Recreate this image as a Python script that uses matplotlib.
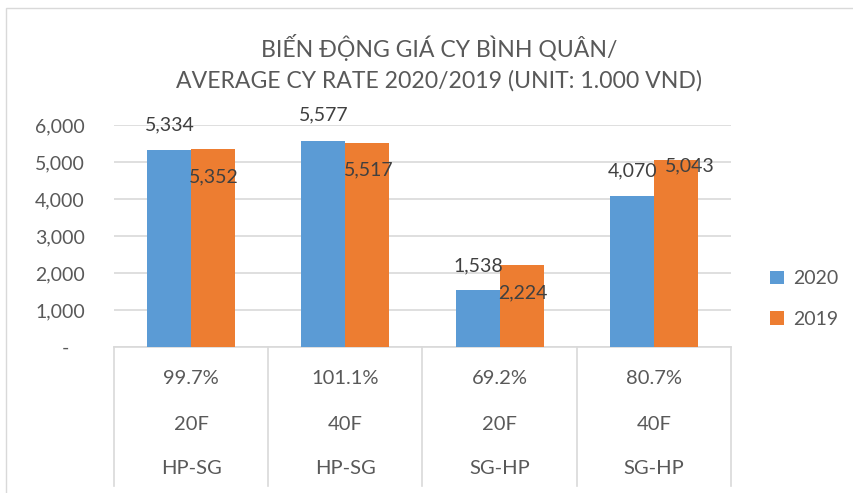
import matplotlib
matplotlib.use("Agg")
import matplotlib.pyplot as plt
import matplotlib.transforms as mtransforms
from matplotlib.lines import Line2D
from matplotlib.patches import Rectangle
from matplotlib.ticker import FuncFormatter
import numpy as np

plt.rcParams['font.family'] = ['Lato', 'DejaVu Sans']

# ---- data ----
routes = ["HP-SG", "HP-SG", "SG-HP", "SG-HP"]
containers = ["20F", "40F", "20F", "40F"]
ratios = ["99.7%", "101.1%", "69.2%", "80.7%"]
series_names = ["2020", "2019"]
values_2020 = [5334, 5577, 1538, 4070]
values_2019 = [5352, 5517, 2224, 5043]
y_ticks = [0, 1000, 2000, 3000, 4000, 5000, 6000]
title = "BIẾN ĐỘNG GIÁ CY BÌNH QUÂN/\nAVERAGE CY RATE 2020/2019 (UNIT: 1.000 VND)"

# ---- style ----
W, H = 854, 493
BLUE = "#5B9BD5"
ORANGE = "#ED7D31"
TXT = "#595959"
GRID = "#D9D9D9"

fig = plt.figure(figsize=(W / 100, H / 100), dpi=100)

def fy(p):
    return (H - p) / H

def fx(p):
    return p / W

# chart border
fig.add_artist(Rectangle((fx(6), fy(900)), 2.0, fy(8) - fy(900), transform=fig.transFigure,
                         fill=False, edgecolor="#D9D9D9", lw=1.0))

ax = fig.add_axes([fx(114), fy(347), fx(731) - fx(114), fy(125) - fy(347)])
n = len(routes)
x = np.arange(n)
bw = 0.285
b1 = ax.bar(x - bw / 2, values_2020, bw, color=BLUE, label=series_names[0], zorder=3)
b2 = ax.bar(x + bw / 2, values_2019, bw, color=ORANGE, label=series_names[1], zorder=3)

ax.set_xlim(-0.5, n - 0.5)
ax.set_ylim(0, 6000)
ax.set_yticks(y_ticks)
ax.yaxis.set_major_formatter(FuncFormatter(lambda v, p: "-   " if v == 0 else f"{v:,.0f}"))
ax.tick_params(axis="y", length=0, pad=21, labelsize=14, labelcolor=TXT)
ax.set_xticks([])
ax.grid(axis="y", color=GRID, lw=1.2, zorder=0)
for s in ["left", "right", "top"]:
    ax.spines[s].set_visible(False)
ax.spines["bottom"].set_color(GRID)
ax.spines["bottom"].set_linewidth(1.2)

# data labels (positions mimic the reference layout)
label_pos_2020 = [(-0.14, 6000), (-0.14, 6270), (-0.14, 2190), (-0.14, 4760)]
label_pos_2019 = [(0.15, 4600), (0.15, 4785), (0.15, 1460), (0.23, 4890)]
for i in range(n):
    dx, yy = label_pos_2020[i]
    ax.text(x[i] + dx, yy, f"{values_2020[i]:,}", ha="center", va="center",
            fontsize=14, color="#404040", clip_on=False, zorder=5)
    dx, yy = label_pos_2019[i]
    ax.text(x[i] + dx, yy, f"{values_2019[i]:,}", ha="center", va="center",
            fontsize=14, color="#404040", clip_on=False, zorder=5)

# multi-level category table
tr = mtransforms.blended_transform_factory(ax.transData, fig.transFigure)
for i in range(n):
    ax.text(x[i], fy(379), ratios[i], transform=tr, ha="center", va="center", fontsize=14.5, color=TXT)
    ax.text(x[i], fy(424), containers[i], transform=tr, ha="center", va="center", fontsize=14.5, color=TXT)
    ax.text(x[i], fy(469), routes[i], transform=tr, ha="center", va="center", fontsize=14.5, color=TXT)
for b in np.arange(n + 1) - 0.5:
    ax.add_line(Line2D([b, b], [fy(347), fy(486)], transform=tr, color=GRID, lw=1.2, clip_on=False))

# title
fig.text(fx(439), fy(63), title, ha="center", va="center", fontsize=16.6, color=TXT, linespacing=1.5)

# legend
leg = fig.legend(handles=[b1, b2], labels=series_names, loc="center left",
                 bbox_to_anchor=(fx(770), fy(299)), frameon=False, fontsize=14,
                 labelcolor=TXT, handlelength=0.7, handleheight=0.7, handletextpad=0.5,
                 labelspacing=1.2, borderpad=0, borderaxespad=0)

fig.savefig("out.png", dpi=100)
